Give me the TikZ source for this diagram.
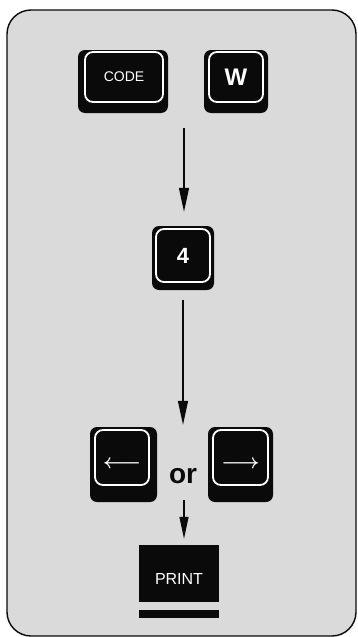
\documentclass[tikz,border=0pt]{standalone}
\usepackage{fontspec}
\setmainfont{Liberation Sans}
\usetikzlibrary{arrows.meta}
\definecolor{paper}{HTML}{DADADA}
\definecolor{ink}{HTML}{0A0A0A}
\tikzset{
  keybase/.style={fill=ink, rounded corners=7pt, inner sep=0pt},
  keytop/.style={draw=white, fill=ink, line width=1.8pt, rounded corners=8pt, inner sep=0pt, text=white},
  flow/.style={draw=ink, line width=1.3pt, -{Triangle[length=24pt,width=10pt]}},
  frame/.style={draw=ink, line width=1.4pt, fill=paper, rounded corners=24pt},
  lab/.style={text=ink, font=\bfseries\fontsize{28}{28}\selectfont, inner sep=0pt},
}

\begin{document}
\begin{tikzpicture}[x=1pt,y=-1pt]
  \useasboundingbox (0,0) rectangle (357,637);
  \fill[white] (0,0) rectangle (357,637);
  \draw[frame] (7,10) rectangle (356,636);
  % CODE + W
  \node[keybase, minimum width=90pt, minimum height=63pt] (codebase) at (123,81.5) {};
  \node[keytop, minimum width=78pt, minimum height=50pt, font=\fontsize{14}{14}\selectfont] (code) at (124,77) {CODE};
  \node[keybase, minimum width=64pt, minimum height=63pt] (wbase) at (236,81.5) {};
  \node[keytop, minimum width=54pt, minimum height=50pt, font=\bfseries\fontsize{24}{24}\selectfont] (w) at (236,77) {W};
  % 4
  \node[keybase, minimum width=62pt, minimum height=64pt] (fourbase) at (183,258) {};
  \node[keytop, minimum width=54pt, minimum height=53pt, font=\bfseries\fontsize{22}{22}\selectfont] (four) at (183,255.5) {4};
  % arrow keys
  \node[keybase, minimum width=67pt, minimum height=75pt] (larrowbase) at (123.5,464.5) {};
  \node[keytop, minimum width=54pt, minimum height=55pt, text height=22pt, text depth=0pt,
        font=\fontsize{22}{22}\selectfont] (larrow) at (122,457.5) {{\boldmath$\longleftarrow$}};
  \node[keybase, minimum width=65pt, minimum height=75pt] (rarrowbase) at (240.5,464.5) {};
  \node[keytop, minimum width=55pt, minimum height=55pt, text height=22pt, text depth=0pt,
        font=\fontsize{22}{22}\selectfont] (rarrow) at (240.5,457.5) {{\boldmath$\longrightarrow$}};
  \node[lab] (or) at (183,476) {or};
  % PRINT
  \node[fill=ink, text=white, inner sep=0pt, minimum width=80pt, minimum height=57pt,
        text height=21pt, text depth=0pt, font=\fontsize{16}{16}\selectfont] (print) at (179,573.5) {PRINT};
  \node[fill=ink, inner sep=0pt, minimum width=80pt, minimum height=8pt] (printbar) at (179,614) {};
  % arrows
  \coordinate (a1) at (184,128);
  \coordinate (a3) at (184,500);
  \draw[flow, shorten >=14pt] (a1) -- (a1 |- fourbase.north);
  \draw[flow, shorten <=10pt, shorten >=2pt] (fourbase.south) -- (fourbase.south |- larrowbase.north);
  \draw[flow, shorten >=6pt, -{Triangle[length=22pt,width=9pt]}] (a3) -- (a3 |- print.north);
\end{tikzpicture}
\end{document}
